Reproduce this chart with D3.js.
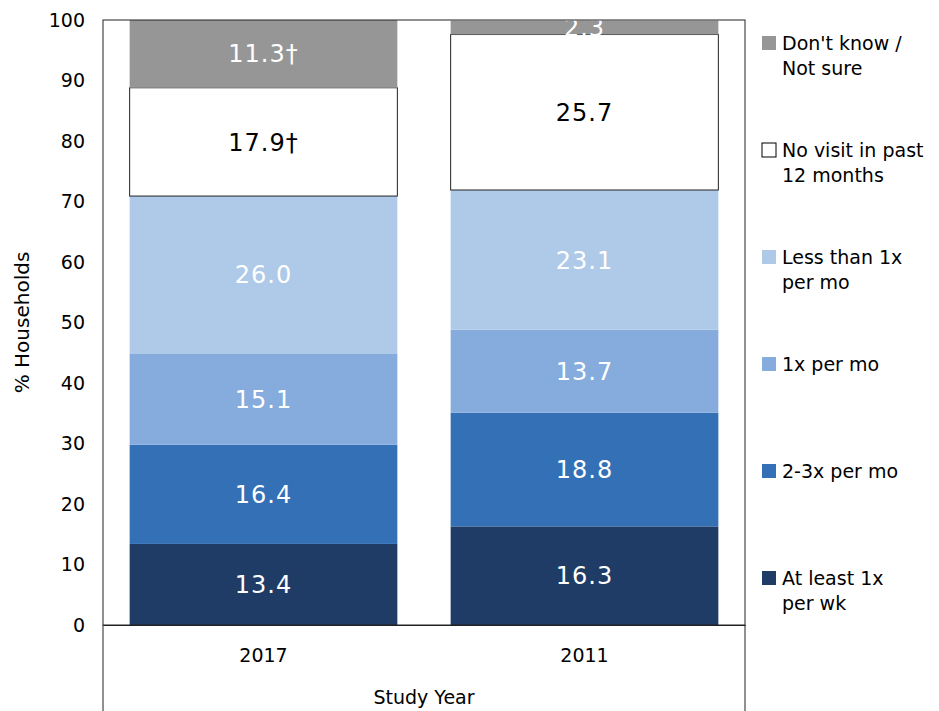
<!DOCTYPE html>
<html>
<head>
<meta charset="utf-8">
<script src="https://cdn.jsdelivr.net/npm/d3@7"></script>
<style>
  body { margin: 0; background: #fff; }
  text { font-family: "DejaVu Sans", sans-serif; }
</style>
</head>
<body>
<svg id="chart"></svg>
<script>
const years = ["2017", "2011"];
const categories = ["At least 1x per wk", "2-3x per mo", "1x per mo", "Less than 1x per mo", "No visit in past 12 months", "Don't know / Not sure"];
const legendLines = [["At least 1x", "per wk"], ["2-3x per mo"], ["1x per mo"], ["Less than 1x", "per mo"], ["No visit in past", "12 months"], ["Don't know /", "Not sure"]];
const values2017 = [13.4, 16.4, 15.1, 26.0, 17.9, 11.3];
const values2011 = [16.3, 18.8, 13.7, 23.1, 25.7, 2.3];
const labels2017 = ["13.4", "16.4", "15.1", "26.0", "17.9\u2020", "11.3\u2020"];
const labels2011 = ["16.3", "18.8", "13.7", "23.1", "25.7", "2.3"];
const yTicks = [0, 10, 20, 30, 40, 50, 60, 70, 80, 90, 100];

const colors = ["#1f3c66", "#3470b5", "#85acdc", "#aecae8", "#ffffff", "#969696"];
const textColors = ["#fff", "#fff", "#fff", "#fff", "#000", "#fff"];

const margin = { top: 20, right: 194, bottom: 86, left: 103 };
const width = 939 - margin.left - margin.right;
const height = 711 - margin.top - margin.bottom;

const svgRoot = d3.select("#chart")
  .attr("width", 939)
  .attr("height", 711);

const svg = svgRoot.append("g")
  .attr("transform", "translate(" + margin.left + "," + margin.top + ")");

svg.append("clipPath").attr("id", "plotclip")
  .append("rect").attr("width", width).attr("height", height);

const table = years.map((yr, i) => {
  const row = { year: yr };
  const vals = i === 0 ? values2017 : values2011;
  categories.forEach((c, j) => { row[c] = vals[j]; });
  return row;
});
const labelsByYear = { "2017": labels2017, "2011": labels2011 };

const stacked = d3.stack().keys(categories)(table);

const x = d3.scaleBand().domain(years).range([0, width]).paddingInner(0.166).paddingOuter(0.083);
const y = d3.scaleLinear().domain([0, 100]).range([height, 0]);

const plot = svg.append("g").attr("clip-path", "url(#plotclip)");

stacked.forEach((layer, k) => {
  plot.append("g").selectAll("rect")
    .data(layer)
    .enter().append("rect")
    .attr("x", d => x(d.data.year))
    .attr("width", x.bandwidth())
    .attr("y", d => y(d[1]))
    .attr("height", d => y(d[0]) - y(d[1]))
    .attr("fill", colors[k])
    .attr("stroke", k === 4 ? "#222" : "none")
    .attr("stroke-width", 1);
});

stacked.forEach((layer, k) => {
  plot.append("g").selectAll("text")
    .data(layer)
    .enter().append("text")
    .attr("x", d => x(d.data.year) + x.bandwidth() / 2)
    .attr("y", d => y((d[0] + d[1]) / 2))
    .attr("dy", "0.36em")
    .attr("text-anchor", "middle")
    .attr("font-size", 24)
    .attr("letter-spacing", 1)
    .attr("fill", textColors[k])
    .text(d => labelsByYear[d.data.year][k]);
});

// frame
svg.append("rect")
  .attr("width", width).attr("height", height)
  .attr("fill", "none").attr("stroke", "#222").attr("stroke-width", 1);
svg.append("line").attr("x1", 0).attr("x2", 0).attr("y1", height).attr("y2", 711 - margin.top)
  .attr("stroke", "#222");
svg.append("line").attr("x1", width).attr("x2", width).attr("y1", height).attr("y2", 711 - margin.top)
  .attr("stroke", "#222");

// y axis
const yAxis = svg.append("g")
  .call(d3.axisLeft(y).tickValues(yTicks).tickSize(0).tickPadding(18));
yAxis.select(".domain").remove();
yAxis.selectAll("text").attr("font-size", 19).attr("fill", "#000")
  .style("font-family", "DejaVu Sans, sans-serif");

// x axis
const xAxis = svg.append("g")
  .attr("transform", "translate(0," + height + ")")
  .call(d3.axisBottom(x).tickSize(0).tickPadding(24));
xAxis.select(".domain").attr("stroke", "#222");
xAxis.selectAll("text").attr("font-size", 19).attr("fill", "#000")
  .style("font-family", "DejaVu Sans, sans-serif");

svg.append("text")
  .attr("x", width / 2).attr("y", height + 79)
  .attr("text-anchor", "middle").attr("font-size", 19)
  .text("Study Year");

svg.append("text")
  .attr("transform", "translate(" + (-74) + "," + (height / 2) + ") rotate(-90)")
  .attr("text-anchor", "middle").attr("font-size", 20)
  .text("% Households");

// legend
const legendY = d3.scalePoint().domain(categories.slice().reverse()).range([43, 578]);
const legend = svgRoot.append("g").attr("transform", "translate(762,0)");
categories.forEach((c, k) => {
  const g = legend.append("g").attr("transform", "translate(0," + legendY(c) + ")");
  g.append("rect").attr("x", 0).attr("y", -7).attr("width", 14).attr("height", 14)
    .attr("fill", colors[k]).attr("stroke", k === 4 ? "#000" : "none");
  legendLines[k].forEach((line, i) => {
    g.append("text").attr("x", 20).attr("y", i * 25).attr("dy", "0.36em")
      .attr("font-size", 19).attr("fill", "#000").text(line);
  });
});
</script>
</body>
</html>
